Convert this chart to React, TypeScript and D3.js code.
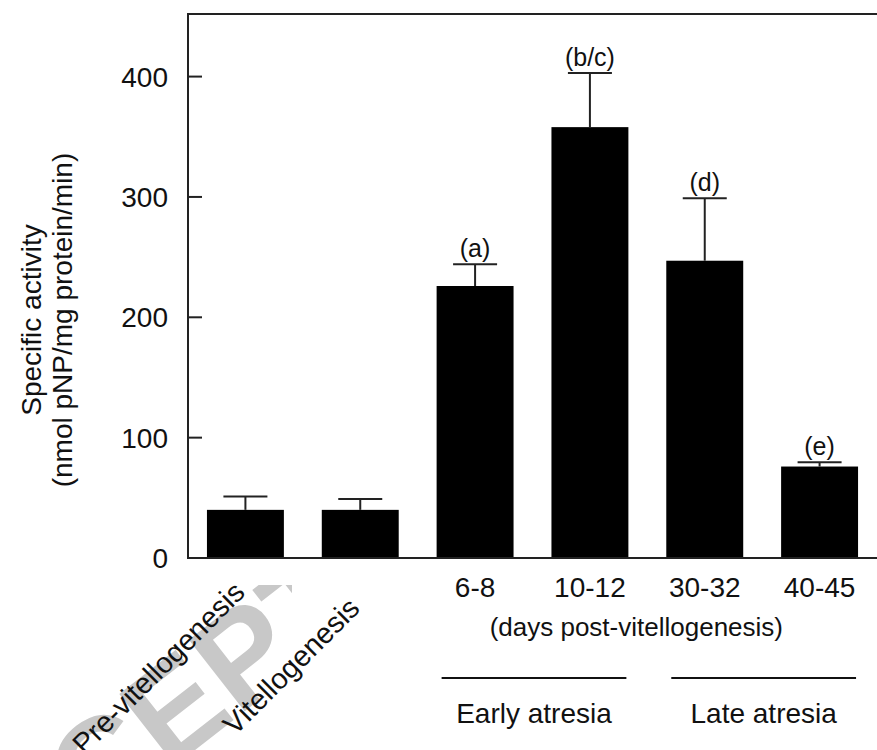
import React, { useEffect, useRef } from 'react';
import * as d3 from 'd3';

const categories = ['Pre-vitellogenesis', 'Vitellogenesis', '6-8', '10-12', '30-32', '40-45'];
const means = [40, 40, 226, 358, 247, 76];
const errors = [11, 9, 18, 45, 52, 3.5];
const groupLetters = ['', '', '(a)', '(b/c)', '(d)', '(e)'];
const yTicks = [0, 100, 200, 300, 400];
const rotatedLabels = ['Pre-vitellogenesis', 'Vitellogenesis'];
const phases = [
  { name: 'Early atresia', from: '6-8', to: '10-12' },
  { name: 'Late atresia', from: '30-32', to: '40-45' },
];

const FONT = '"Liberation Sans", Arial, Helvetica, sans-serif';

const App = () => {
  const svgRef = useRef<SVGSVGElement | null>(null);

  useEffect(() => {
    const width = 877;
    const height = 750;
    const margin = { top: 14, right: 0, bottom: 192, left: 188 };

    const svg = d3.select(svgRef.current);
    svg.selectAll('*').remove();

    const x = d3
      .scaleBand()
      .domain(categories)
      .range([margin.left, width - margin.right])
      .paddingInner(0.33)
      .paddingOuter(0.165);

    const y = d3
      .scaleLinear()
      .domain([0, 452])
      .range([height - margin.bottom, margin.top]);

    const y0 = y(0);

    // watermark behind everything, only visible below-left of the figure
    svg
      .append('defs')
      .append('clipPath')
      .attr('id', 'wm-clip')
      .append('rect')
      .attr('x', 0)
      .attr('y', 585)
      .attr('width', 292)
      .attr('height', height - 585);

    svg
      .append('g')
      .attr('clip-path', 'url(#wm-clip)')
      .append('text')
      .attr('transform', 'translate(-57,947) rotate(-38)')
      .attr('font-family', FONT)
      .attr('font-weight', 'bold')
      .attr('font-size', 132)
      .attr('fill', '#c8c8c8')
      .text('ACCEPTED');

    // bars
    svg
      .selectAll('rect.bar')
      .data(means)
      .enter()
      .append('rect')
      .attr('class', 'bar')
      .attr('x', (d, i) => x(categories[i]))
      .attr('y', (d) => y(d))
      .attr('width', x.bandwidth())
      .attr('height', (d) => y0 - y(d))
      .attr('fill', '#000');

    // error bars
    const cx = (i) => x(categories[i]) + x.bandwidth() / 2;
    const eb = svg.append('g').attr('stroke', '#222').attr('stroke-width', 2);
    means.forEach((m, i) => {
      eb.append('line')
        .attr('x1', cx(i))
        .attr('x2', cx(i))
        .attr('y1', y(m))
        .attr('y2', y(m + errors[i]));
      eb.append('line')
        .attr('x1', cx(i) - 22)
        .attr('x2', cx(i) + 22)
        .attr('y1', y(m + errors[i]))
        .attr('y2', y(m + errors[i]));
    });

    // significance letters
    svg
      .selectAll('text.letter')
      .data(groupLetters)
      .enter()
      .append('text')
      .attr('class', 'letter')
      .attr('x', (d, i) => cx(i))
      .attr('y', (d, i) => y(means[i] + errors[i]) - 7)
      .attr('text-anchor', 'middle')
      .attr('font-family', FONT)
      .attr('font-size', 25)
      .attr('fill', '#111')
      .text((d) => d);

    // axes frame
    const frame = svg.append('g').attr('stroke', '#222').attr('stroke-width', 2).attr('fill', 'none');
    frame.append('line').attr('x1', margin.left).attr('x2', width).attr('y1', margin.top).attr('y2', margin.top);
    frame.append('line').attr('x1', margin.left).attr('x2', width).attr('y1', y0).attr('y2', y0);
    frame.append('line').attr('x1', margin.left).attr('x2', margin.left).attr('y1', margin.top - 1).attr('y2', y0 + 1);

    // y ticks
    yTicks.forEach((t) => {
      frame
        .append('line')
        .attr('x1', margin.left)
        .attr('x2', margin.left + 14)
        .attr('y1', y(t))
        .attr('y2', y(t));
      svg
        .append('text')
        .attr('x', margin.left - 20)
        .attr('y', y(t))
        .attr('dy', '0.36em')
        .attr('text-anchor', 'end')
        .attr('font-family', FONT)
        .attr('font-size', 28)
        .attr('fill', '#111')
        .text(t);
    });

    // y title
    const yt = svg
      .append('text')
      .attr('transform', 'translate(41,320) rotate(-90)')
      .attr('text-anchor', 'middle')
      .attr('font-family', FONT)
      .attr('font-size', 28)
      .attr('fill', '#111');
    yt.append('tspan').attr('x', 0).attr('y', 0).text('Specific activity');
    yt.append('tspan').attr('x', 0).attr('y', 31).text('(nmol pNP/mg protein/min)');

    // x labels
    categories.forEach((c, i) => {
      if (rotatedLabels.includes(c)) {
        const ly = i === 0 ? 594 : 610;
        svg
          .append('text')
          .attr('transform', `translate(${cx(i) + 1},${ly}) rotate(-45)`)
          .attr('text-anchor', 'end')
          .attr('font-family', FONT)
          .attr('font-size', 29)
          .attr('fill', '#111')
          .text(c);
      } else {
        svg
          .append('text')
          .attr('x', cx(i))
          .attr('y', 597)
          .attr('text-anchor', 'middle')
          .attr('font-family', FONT)
          .attr('font-size', 28)
          .attr('fill', '#111')
          .text(c);
      }
    });

    const dayMid = (x('6-8') + x('40-45') + x.bandwidth()) / 2;
    svg
      .append('text')
      .attr('x', dayMid - 11)
      .attr('y', 636)
      .attr('text-anchor', 'middle')
      .attr('font-family', FONT)
      .attr('font-size', 26)
      .attr('fill', '#111')
      .text('(days post-vitellogenesis)');

    phases.forEach((p) => {
      const left = x(p.from) + 5;
      const right = x(p.to) + x.bandwidth() - 2;
      svg
        .append('line')
        .attr('x1', left)
        .attr('x2', right)
        .attr('y1', 678)
        .attr('y2', 678)
        .attr('stroke', '#111')
        .attr('stroke-width', 2);
      svg
        .append('text')
        .attr('x', (left + right) / 2)
        .attr('y', 723)
        .attr('text-anchor', 'middle')
        .attr('font-family', FONT)
        .attr('font-size', 28)
        .attr('fill', '#111')
        .text(p.name);
    });
  }, []);

  return (
    <svg
      ref={svgRef}
      width={877}
      height={750}
      style={{ position: 'absolute', left: 0, top: 0, background: '#fff' }}
    ></svg>
  );
};

export default App;
